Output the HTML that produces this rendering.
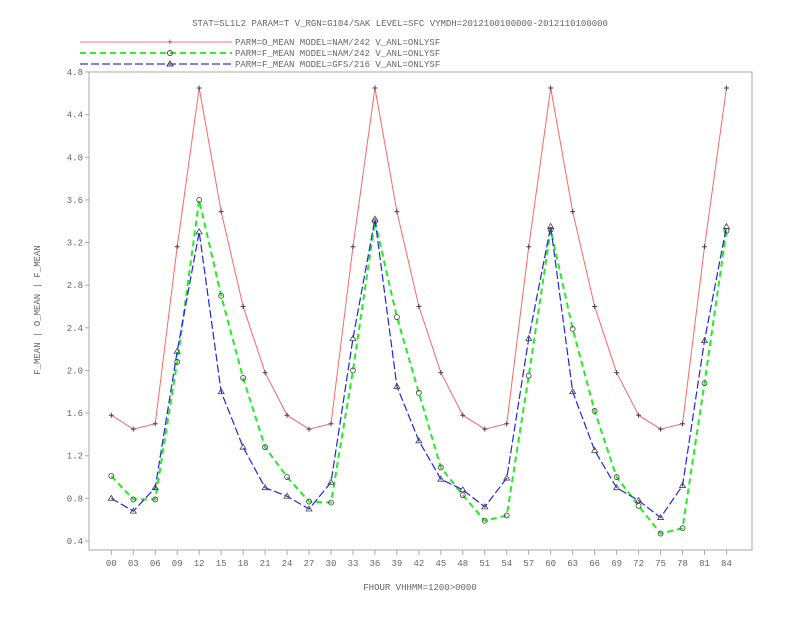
<!DOCTYPE html>
<html><head><meta charset="utf-8"><style>
body{margin:0;background:#fff}
svg text{font-family:"Liberation Mono",monospace;fill:#666;font-size:9px}
</style></head><body>
<svg id="c" width="792" height="612" xmlns="http://www.w3.org/2000/svg">
<text x="400" y="26" text-anchor="middle">STAT=SL1L2 PARAM=T V_RGN=G104/SAK LEVEL=SFC VYMDH=2012100100000-2012110100000</text>
<g>
<line x1="80" y1="42" x2="232" y2="42" stroke="#f77" stroke-width="1"/>
<text x="170" y="45" text-anchor="middle" style="fill:#444">+</text>
<text x="235" y="45">PARM=O_MEAN MODEL=NAM/242 V_ANL=ONLYSF</text>
<line x1="80" y1="53" x2="232" y2="53" stroke="#3e3" stroke-width="2" stroke-dasharray="6,4"/>
<circle cx="170" cy="53" r="2.5" fill="none" stroke="#444"/>
<text x="235" y="56">PARM=F_MEAN MODEL=NAM/242 V_ANL=ONLYSF</text>
<line x1="80" y1="64" x2="232" y2="64" stroke="#33e" stroke-width="1.2" stroke-dasharray="8,3"/>
<path d="M167,66 L170,61 L173,66 Z" fill="none" stroke="#444"/>
<text x="235" y="67">PARM=F_MEAN MODEL=GFS/216 V_ANL=ONLYSF</text>
</g>
<rect x="89" y="72" width="663" height="478" fill="none" stroke="#aaa"/>
<g id="axes"></g>
<g id="series"></g>
<text x="420" y="590" text-anchor="middle">FHOUR VHHMM=1200&gt;0000</text>
<text transform="translate(40,310) rotate(-90)" text-anchor="middle">F_MEAN | O_MEAN | F_MEAN</text>
</svg>
<script>
const categories=["00","03","06","09","12","15","18","21","24","27","30","33","36","39","42","45","48","51","54","57","60","63","66","69","72","75","78","81","84"];
const obsMean=[1.58,1.45,1.5,3.16,4.65,3.49,2.6,1.98,1.58,1.45,1.5,3.16,4.65,3.49,2.6,1.98,1.58,1.45,1.5,3.16,4.65,3.49,2.6,1.98,1.58,1.45,1.5,3.16,4.65];
const namMean=[1.01,0.79,0.79,2.08,3.6,2.7,1.93,1.28,1.0,0.77,0.76,2.0,3.4,2.5,1.79,1.09,0.83,0.59,0.64,1.95,3.32,2.39,1.62,1.0,0.73,0.47,0.52,1.88,3.31];
const gfsMean=[0.8,0.68,0.9,2.18,3.3,1.8,1.28,0.9,0.82,0.7,0.95,2.3,3.42,1.85,1.34,0.98,0.88,0.72,0.99,2.3,3.35,1.8,1.25,0.9,0.78,0.62,0.92,2.28,3.35];
const yTicks=[0.4,0.8,1.2,1.6,2.0,2.4,2.8,3.2,3.6,4.0,4.4,4.8];
const NS="http://www.w3.org/2000/svg";
function xs(i){return 111.3+i*21.97;}
function ys(v){return 541-(v-0.4)*(469/4.4);}
function mk(tag,attrs,parent){const e=document.createElementNS(NS,tag);for(const k in attrs)e.setAttribute(k,attrs[k]);parent.appendChild(e);return e;}
const ax=document.getElementById('axes');
yTicks.forEach(v=>{
  const y=ys(v);
  const t=mk('line',{x1:85,x2:89,y1:y,y2:y,stroke:'#aaa'},ax);
  
  
  const l=mk('text',{x:83,y:y+3,'text-anchor':'end'},ax);
  
  
  l.textContent=v.toFixed(1);
});
categories.forEach((c,i)=>{
  const x=xs(i);
  const t=mk('line',{x1:x,x2:x,y1:550,y2:555,stroke:'#aaa'},ax);
  
  
  const l=mk('text',{x:x,y:566,'text-anchor':'middle'},ax);
  
  
  l.textContent=c;
});
const sg=document.getElementById('series');
function drawSeries(vals,color,w,dash,marker,name){
  const pts=vals.map((v,i)=>xs(i)+','+ys(v)).join(' ');
  const p=mk('polyline',{points:pts,fill:'none',stroke:color,'stroke-width':w},sg);
  if(dash)p.setAttribute('stroke-dasharray',dash);
  
  
  vals.forEach((v,i)=>{
    const x=xs(i),y=ys(v);let m;
    if(marker==='plus')m=mk('path',{d:`M${x-2.5},${y}H${x+2.5}M${x},${y-2.5}V${y+2.5}`,stroke:'#444',fill:'none'},sg);
    else if(marker==='circle')m=mk('circle',{cx:x,cy:y,r:2.5,fill:'none',stroke:'#444','stroke-width':0.8},sg);
    else m=mk('path',{d:`M${x-3},${y+2} L${x},${y-3} L${x+3},${y+2} Z`,fill:'none',stroke:'#444','stroke-width':0.8},sg);
    
    
  });
}
drawSeries(obsMean,'#f66',1,null,'plus','obs-mean');
drawSeries(namMean,'#2e2',2,'6,4','circle','nam-mean');
drawSeries(gfsMean,'#22e',1.2,'8,3','tri','gfs-mean');
</script>
</body></html>
